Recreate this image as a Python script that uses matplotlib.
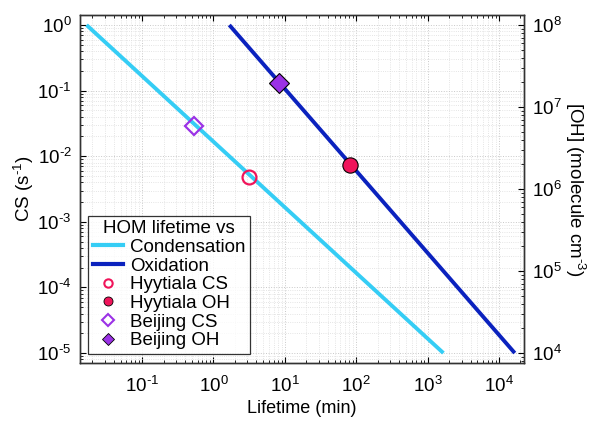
import numpy as np
import matplotlib
matplotlib.use("Agg")
import matplotlib.pyplot as plt
from matplotlib.ticker import LogLocator, NullFormatter, FuncFormatter
from matplotlib.lines import Line2D

plt.rcParams['font.family'] = ['Liberation Sans', 'DejaVu Sans']
plt.rcParams['mathtext.fontset'] = 'custom'
plt.rcParams['mathtext.rm'] = 'Liberation Sans'
plt.rcParams['mathtext.it'] = 'Liberation Sans:italic'

# Lifetime lines (min) vs condensation sink / OH concentration
cond_lifetime = [0.0167, 1667.0]
cond_cs = [1.0, 1e-5]
ox_lifetime = [1.67, 16667.0]
ox_oh = [1e8, 1e4]

# Site markers
hyy_cs_lifetime, hyy_cs = [3.2], [4.8e-3]
hyy_oh_lifetime, hyy_oh = [82.0], [1.95e6]
bj_cs_lifetime, bj_cs = [0.54], [0.029]
bj_oh_lifetime, bj_oh = [8.2], [1.96e7]

c_cond = '#35CDF5'
c_ox = '#0B22BE'
c_hyy = '#F0145A'
c_bj = '#9B32E6'


def pow10(v, pos):
    # matlab style 10^n with a short hyphen for negative exponents
    e = int(round(np.log10(v)))
    s = str(e).replace('-', r'\text{-}')
    return r'$10^{%s}$' % s


fig = plt.figure(figsize=(5.92, 4.21), dpi=100)
ax = fig.add_axes([0.135, 0.138, 0.750, 0.826])
ax2 = ax.twinx()

ax.plot(cond_lifetime, cond_cs, color=c_cond, lw=2.8, solid_capstyle='butt')
ax.plot(hyy_cs_lifetime, hyy_cs, 'o', ms=10, mfc='none', mec=c_hyy, mew=1.6)
ax.plot(bj_cs_lifetime, bj_cs, 'D', ms=9.5, mfc='none', mec=c_bj, mew=1.6)

ax2.plot(ox_lifetime, ox_oh, color=c_ox, lw=2.8, solid_capstyle='butt')
ax2.plot(hyy_oh_lifetime, hyy_oh, 'o', ms=11, mfc=c_hyy, mec='k', mew=0.8)
ax2.plot(bj_oh_lifetime, bj_oh, 'D', ms=10.5, mfc=c_bj, mec='k', mew=0.8)

for a in (ax, ax2):
    a.set_xscale('log')
    a.set_yscale('log')
ax.set_xlim(10**-1.87, 10**4.35)
ax.set_ylim(10**-5.15, 10**0.15)
ax2.set_ylim(10**3.88, 10**8.12)

ax.set_xticks([1e-1, 1e0, 1e1, 1e2, 1e3, 1e4])
ax.set_yticks([1e-5, 1e-4, 1e-3, 1e-2, 1e-1, 1e0])
ax2.set_yticks([1e4, 1e5, 1e6, 1e7, 1e8])
for axis in (ax.xaxis, ax.yaxis, ax2.yaxis):
    axis.set_major_formatter(FuncFormatter(pow10))
    axis.set_minor_locator(LogLocator(base=10, subs=np.arange(2, 10), numticks=30))
    axis.set_minor_formatter(NullFormatter())

ax.grid(True, which='major', color='#c8c8c8', ls=':', lw=0.7)
ax.grid(True, which='minor', color='#dcdcdc', ls=':', lw=0.6)

ax.tick_params(which='both', direction='in', top=True, labelsize=13.5)
ax.tick_params(axis='y', pad=6)
ax.tick_params(axis='x', pad=9)
ax.tick_params(which='major', length=4)
ax.tick_params(which='minor', length=2)
ax2.tick_params(which='both', direction='in', labelsize=13.5, pad=6)
ax2.tick_params(which='major', length=4)
ax2.tick_params(which='minor', length=2)
for a in (ax, ax2):
    for s in a.spines.values():
        s.set_linewidth(1.0)
        s.set_color('#333333')

ax.set_xlabel('Lifetime (min)', fontsize=13, labelpad=3)
ax.set_ylabel('CS (s$^{\\text{-}1}$)', fontsize=13.5, labelpad=1)
ax2.set_ylabel('[OH] (molecule cm$^{\\text{-}3}$)', fontsize=13.5, rotation=270,
               labelpad=18)

handles = [
    Line2D([], [], color=c_cond, lw=3),
    Line2D([], [], color=c_ox, lw=3),
    Line2D([], [], ls='none', marker='o', ms=6, mfc='none', mec=c_hyy, mew=1.5),
    Line2D([], [], ls='none', marker='o', ms=6.5, mfc=c_hyy, mec='k', mew=0.6),
    Line2D([], [], ls='none', marker='D', ms=6, mfc='none', mec=c_bj, mew=1.5),
    Line2D([], [], ls='none', marker='D', ms=6.5, mfc=c_bj, mec='k', mew=0.6),
]
labels = ['Condensation', 'Oxidation', 'Hyytiala CS', 'Hyytiala OH',
          'Beijing CS', 'Beijing OH']
leg = ax2.legend(handles, labels, title='HOM lifetime vs', loc='lower left',
                 bbox_to_anchor=(0.018, 0.026), fontsize=13.5, title_fontsize=13.5,
                 frameon=True, fancybox=False, edgecolor='k', handlelength=1.6,
                 handletextpad=0.4, labelspacing=0.08, borderpad=0.25,
                 borderaxespad=0.0)
leg.get_frame().set_linewidth(0.9)

fig.savefig('out.png', dpi=100)
